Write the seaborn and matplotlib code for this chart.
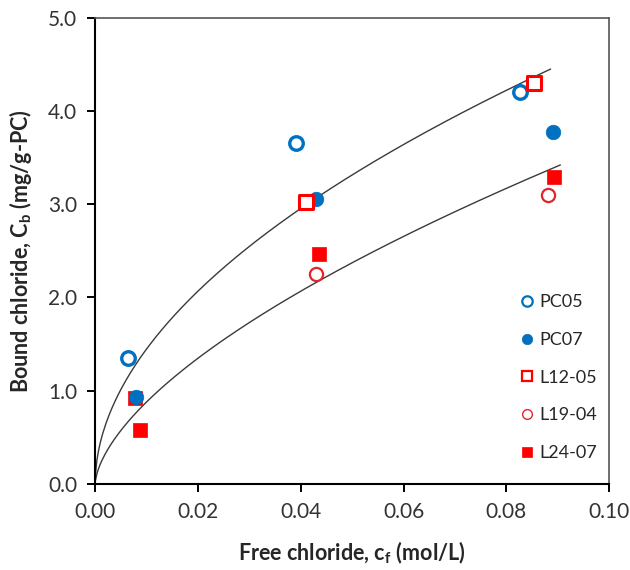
import numpy as np
import pandas as pd
import matplotlib
matplotlib.use("Agg")
import matplotlib.pyplot as plt
from matplotlib.lines import Line2D
import seaborn as sns

# Free chloride (mol/L) and bound chloride (mg/g-PC) per mix
PC05_X = [0.0064, 0.039, 0.0826]
PC05_Y = [1.35, 3.66, 4.20]
PC07_X = [0.0079, 0.043, 0.089]
PC07_Y = [0.93, 3.06, 3.77]
L12_05_X = [0.041, 0.0853]
L12_05_Y = [3.02, 4.30]
L19_04_X = [0.0429, 0.088]
L19_04_Y = [2.25, 3.10]
L24_07_X = [0.0078, 0.0087, 0.0435, 0.0893]
L24_07_Y = [0.92, 0.58, 2.47, 3.29]

# Freundlich fits  Cb = a * cf^b  (a, b, last cf)
UPPER_FIT = (15.5, 0.515, 0.0886)
LOWER_FIT = (15.06, 0.617, 0.0905)

X_TICKS = [0.00, 0.02, 0.04, 0.06, 0.08, 0.10]
Y_TICKS = [0.0, 1.0, 2.0, 3.0, 4.0, 5.0]

BLUE = "#0070C0"
RED = "#FF0000"
RED2 = "#E0262B"

sns.set_style("white")
plt.rcParams["font.family"] = ["Lato", "DejaVu Sans"]
plt.rcParams["mathtext.default"] = "regular"

fig = plt.figure(figsize=(6.3, 5.7), dpi=100)
ax = fig.add_axes([0.151, 0.151, 0.816, 0.818])

# fitted curves
for a, b, xmax in (UPPER_FIT, LOWER_FIT):
    cf = np.linspace(0.00005, xmax, 300)
    sns.lineplot(x=cf, y=a * cf ** b, ax=ax, color="#3a3a3a", lw=1.0, zorder=1)

series = [
    ("PC05", PC05_X, PC05_Y, dict(marker="o", s=95, facecolor="white", edgecolor=BLUE, linewidth=2.4), 3, 1.6),
    ("PC07", PC07_X, PC07_Y, dict(marker="o", s=110, facecolor=BLUE, edgecolor=BLUE, linewidth=0.5), 4, 0.5),
    ("L12-05", L12_05_X, L12_05_Y, dict(marker="s", s=90, facecolor="white", edgecolor=RED, linewidth=2.2), 5, 1.6),
    ("L19-04", L19_04_X, L19_04_Y, dict(marker="o", s=90, facecolor="white", edgecolor=RED2, linewidth=1.6), 3, 1.0),
    ("L24-07", L24_07_X, L24_07_Y, dict(marker="s", s=110, facecolor=RED, edgecolor=RED, linewidth=0.5), 2, 0.5),
]

handles = []
for name, xs, ys, style, z, lw in series:
    df = pd.DataFrame({"cf": xs, "Cb": ys})
    sns.scatterplot(data=df, x="cf", y="Cb", ax=ax, zorder=z, **style)
    handles.append(Line2D([], [], linestyle="none", marker=style["marker"],
                          markersize=7.5 if name != "L19-04" else 7,
                          markerfacecolor=style["facecolor"],
                          markeredgecolor=style["edgecolor"],
                          markeredgewidth=lw, label=name))

ax.set_xlim(0, 0.10)
ax.set_ylim(0, 5.0)
ax.set_xticks(X_TICKS)
ax.set_yticks(Y_TICKS)
ax.set_xticklabels([f"{v:.2f}" for v in X_TICKS])
ax.set_yticklabels([f"{v:.1f}" for v in Y_TICKS])
ax.tick_params(axis="both", direction="out", length=6, width=1.4, labelsize=15,
               colors="black", labelcolor="#333333", bottom=True, left=True, pad=7)
for side in ["left", "bottom"]:
    ax.spines[side].set_color("black")
    ax.spines[side].set_linewidth(1.5)
for side in ["top", "right"]:
    ax.spines[side].set_color("#555555")
    ax.spines[side].set_linewidth(1.2)

ax.set_xlabel("Free chloride, c$_f$ (mol/L)", fontsize=15.5, fontweight="bold", labelpad=13)
ax.set_ylabel("Bound chloride, C$_b$ (mg/g-PC)", fontsize=15.5, fontweight="bold", labelpad=10)

ax.legend(handles=handles, loc="lower left", bbox_to_anchor=(0.805, 0.034),
          frameon=False, fontsize=13, handletextpad=0.1, handlelength=1.2,
          labelspacing=1.2, borderaxespad=0)

fig.savefig("out.png", dpi=100)
